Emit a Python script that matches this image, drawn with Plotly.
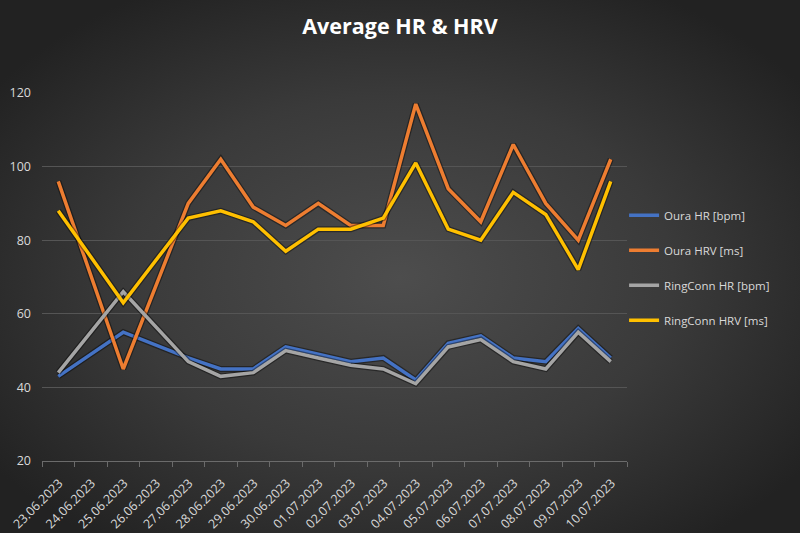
import plotly.graph_objects as go
import base64

dates = ["23.06.2023", "24.06.2023", "25.06.2023", "26.06.2023", "27.06.2023",
         "28.06.2023", "29.06.2023", "30.06.2023", "01.07.2023", "02.07.2023",
         "03.07.2023", "04.07.2023", "05.07.2023", "06.07.2023", "07.07.2023",
         "08.07.2023", "09.07.2023", "10.07.2023"]

oura_hr = [43, None, 55, None, 48, 45, 45, 51, 49, 47, 48, 42, 52, 54, 48, 47, 56, 48]
oura_hrv = [96, None, 45, None, 90, 102, 89, 84, 90, 84, 84, 117, 94, 85, 106, 90, 80, 102]
ringconn_hr = [44, None, 66, None, 47, 43, 44, 50, 48, 46, 45, 41, 51, 53, 47, 45, 55, 47]
ringconn_hrv = [88, None, 63, None, 86, 88, 85, 77, 83, 83, 86, 101, 83, 80, 93, 87, 72, 96]

series = [
    ("Oura HR [bpm]", oura_hr, "#4472C4"),
    ("Oura HRV [ms]", oura_hrv, "#ED7D31"),
    ("RingConn HR [bpm]", ringconn_hr, "#A5A5A5"),
    ("RingConn HRV [ms]", ringconn_hrv, "#FFC000"),
]

W, H = 800, 533
ML, MR, MT, MB = 42, 173, 93, 72

fig = go.Figure()
for name, vals, color in series:
    fig.add_trace(go.Scatter(x=dates, y=vals, mode="lines", connectgaps=True,
                             line=dict(color="rgba(0,0,0,0.4)", width=6),
                             showlegend=False, hoverinfo="skip", legendgroup=name))
    fig.add_trace(go.Scatter(x=dates, y=vals, mode="lines", name=name, connectgaps=True,
                             line=dict(color=color, width=3.5), legendgroup=name))

svg = f'''<svg xmlns="http://www.w3.org/2000/svg" width="{W}" height="{H}" viewBox="0 0 {W} {H}" preserveAspectRatio="none">
<defs><radialGradient id="g" cx="50%" cy="52%" r="62%" gradientUnits="objectBoundingBox">
<stop offset="0%" stop-color="#4d4d4d"/><stop offset="55%" stop-color="#3a3a3a"/><stop offset="100%" stop-color="#222222"/>
</radialGradient></defs><rect width="{W}" height="{H}" fill="url(#g)"/></svg>'''
src = "data:image/svg+xml;base64," + base64.b64encode(svg.encode()).decode()

pw = W - ML - MR
ph = H - MT - MB

fig.update_layout(
    width=W, height=H,
    margin=dict(l=ML, r=MR, t=MT, b=MB, autoexpand=False),
    paper_bgcolor="#2e2e2e",
    plot_bgcolor="rgba(0,0,0,0)",
    images=[dict(source=src, xref="paper", yref="paper",
                 x=-ML / pw, y=(ph + MT) / ph, sizex=W / pw, sizey=H / ph,
                 xanchor="left", yanchor="top", sizing="stretch", layer="below")],
    title=dict(text="<b>Average HR &amp; HRV</b>", x=0.5, xref="container", xanchor="center",
               y=1 - 26 / H, yref="container", yanchor="middle",
               font=dict(family="Open Sans, sans-serif", size=21.5, color="#ffffff")),
    font=dict(family="Open Sans, sans-serif", color="#d9d9d9"),
    legend=dict(x=0.995, xanchor="left", y=0.525, yanchor="middle",
                bgcolor="rgba(0,0,0,0)", font=dict(size=11.5, color="#d9d9d9"),
                traceorder="grouped", tracegroupgap=16, itemwidth=30),
    showlegend=True,
    xaxis=dict(type="category", range=[-0.5, len(dates) - 0.5], tickangle=-45,
               tickfont=dict(size=12.5, color="#d9d9d9"),
               showgrid=False, showline=True, linecolor="#6b6b6b", linewidth=1,
               ticks="outside", tickson="boundaries", ticklen=5, tickcolor="#6b6b6b",
               zeroline=False, automargin=False, ticklabelshift=1, ticklabelstandoff=9),
    yaxis=dict(range=[20, 120], dtick=20, tickfont=dict(size=12.5, color="#d9d9d9"),
               showgrid=True, gridcolor="#555555", gridwidth=1, zeroline=False,
               showline=False, ticks="", ticklabelstandoff=10, automargin=False),
)

fig.write_html("out.html", config={"displayModeBar": False},
               post_script="document.body.style.margin='0';document.body.style.overflow='hidden';")
